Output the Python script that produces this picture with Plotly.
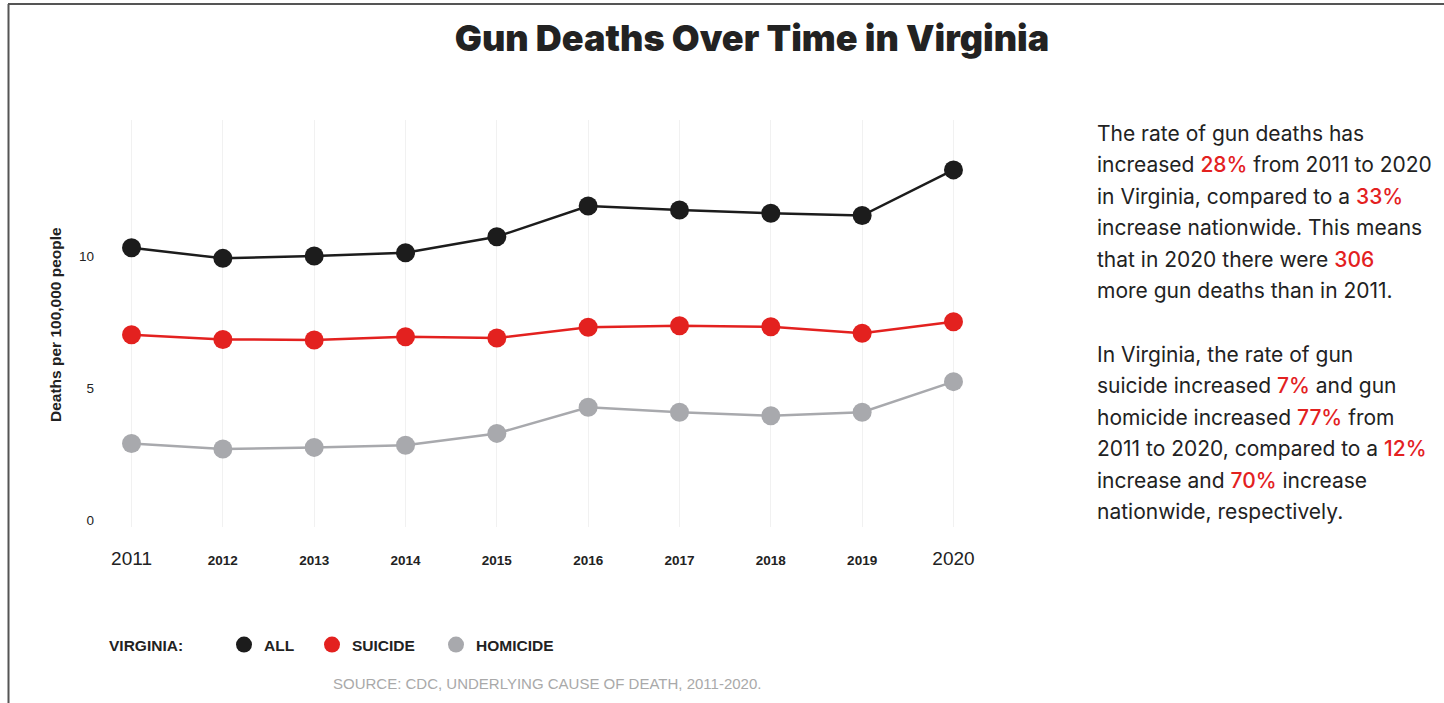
import plotly.graph_objects as go

years = [2011, 2012, 2013, 2014, 2015, 2016, 2017, 2018, 2019, 2020]
all_deaths = [10.31, 9.91, 10.0, 10.12, 10.73, 11.89, 11.74, 11.62, 11.53, 13.26]
suicide = [7.02, 6.84, 6.82, 6.94, 6.89, 7.30, 7.36, 7.32, 7.07, 7.51]
homicide = [2.90, 2.69, 2.75, 2.83, 3.28, 4.27, 4.08, 3.95, 4.08, 5.24]
x_tick_labels = ["<span style='font-size:19px;font-weight:normal'>2011</span>", "2012", "2013", "2014", "2015",
                 "2016", "2017", "2018", "2019", "<span style='font-size:19px;font-weight:normal'>2020</span>"]
y_ticks = [0, 5, 10]

series_names = ["ALL", "SUICIDE", "HOMICIDE"]
series_colors = ["#1c1c1c", "#e3211f", "#a8a9ad"]

W, H = 1444, 703
L, R, T, B = 95, 990, 120, 527


def px_x(p):
    return (p - L) / (R - L)


def px_y(p):
    return (B - p) / (B - T)


fig = go.Figure()
for name, vals, col in zip(series_names, [all_deaths, suicide, homicide], series_colors):
    fig.add_trace(go.Scatter(
        x=years, y=vals, mode="lines+markers", name=name, showlegend=False,
        line=dict(color=col, width=2.5),
        marker=dict(color=col, size=19),
        hoverinfo="x+y",
    ))

legend_ids = ["legend", "legend2", "legend3"]
legend_x = [224, 312, 436]
for name, col, lid in zip(series_names, series_colors, legend_ids):
    fig.add_trace(go.Scatter(
        x=[None], y=[None], mode="markers", name=name, legend=lid,
        marker=dict(color=col, size=19), showlegend=True,
    ))

legend_common = dict(
    orientation="h", yanchor="middle", xanchor="left",
    font=dict(family="Liberation Sans", size=15.5, color="#222222", weight="bold"),
    bgcolor="rgba(0,0,0,0)", borderwidth=0,
)
layout_legends = {}
for lid, lx in zip(legend_ids, legend_x):
    layout_legends[lid] = dict(legend_common, x=px_x(lx), y=px_y(645))

fig.update_layout(
    width=W, height=H,
    margin=dict(l=L, r=W - R, t=T, b=H - B),
    paper_bgcolor="white", plot_bgcolor="white",
    font=dict(family="Liberation Sans", color="#222222"),
    title=dict(
        text="Gun Deaths Over Time in Virginia",
        x=752 / W, xanchor="center", y=1 - 38 / H, yanchor="middle",
        font=dict(family="Inter", size=36, color="#222222", weight=900),
    ),
    xaxis=dict(
        range=[2010.6, 2020.4], tickmode="array", tickvals=years, ticktext=x_tick_labels,
        showgrid=True, gridcolor="#f1f1f1", gridwidth=1, zeroline=False, showline=False,
        ticks="", tickfont=dict(family="Liberation Sans", size=13.5, color="#222222", weight="bold"),
        ticklabelstandoff=23, fixedrange=True,
    ),
    yaxis=dict(
        range=[-0.265, 15.15], tickmode="array", tickvals=y_ticks,
        showgrid=False, zeroline=False, showline=False, ticks="",
        tickfont=dict(family="Liberation Sans", size=13.5, color="#222222"),
        fixedrange=True,
    ),
    showlegend=True,
    **layout_legends,
)

annotations = []
annotations.append(dict(
    text="Deaths per 100,000 people", textangle=-90, x=px_x(55), y=px_y(325),
    xref="paper", yref="paper", showarrow=False, xanchor="center", yanchor="middle",
    font=dict(family="Liberation Sans", size=15.5, color="#222222", weight="bold"),
))
annotations.append(dict(
    text="VIRGINIA:", x=px_x(107), y=px_y(645), xref="paper", yref="paper", showarrow=False,
    xanchor="left", yanchor="middle",
    font=dict(family="Liberation Sans", size=15.5, color="#222222", weight="bold"),
))
annotations.append(dict(
    text="SOURCE: CDC, UNDERLYING CAUSE OF DEATH, 2011-2020.", x=px_x(547), y=px_y(683),
    xref="paper", yref="paper", showarrow=False, xanchor="center", yanchor="middle",
    font=dict(family="Liberation Sans", size=15, color="#a9a9a9"),
))

RED = "#e3211f"


def hl(t):
    return f"<span style='color:{RED};font-weight:500'>{t}</span>"


para_lines = [
    "The rate of gun deaths has",
    f"increased {hl('28%')} from 2011 to 2020",
    f"in Virginia, compared to a {hl('33%')}",
    "increase nationwide. This means",
    f"that in 2020 there were {hl('306')}",
    "more gun deaths than in 2011.",
    "In Virginia, the rate of gun",
    f"suicide increased {hl('7%')} and gun",
    f"homicide increased {hl('77%')} from",
    f"2011 to 2020, compared to a {hl('12%')}",
    f"increase and {hl('70%')} increase",
    "nationwide, respectively.",
]
para_y = [133, 164.5, 196, 227.5, 259, 290.5, 354, 385.5, 417, 448.5, 480, 511.5]
for line, ly in zip(para_lines, para_y):
    annotations.append(dict(
        text=line, x=px_x(1095), y=px_y(ly), xref="paper", yref="paper", showarrow=False,
        xanchor="left", yanchor="middle",
        font=dict(family="Inter", size=21, color="#222222"),
    ))

fig.update_layout(annotations=annotations)

border = dict(color="#555555", width=2)
fig.add_shape(type="line", xref="paper", yref="paper", x0=px_x(8), x1=px_x(W), y0=px_y(4), y1=px_y(4), line=border)
fig.add_shape(type="line", xref="paper", yref="paper", x0=px_x(8.5), x1=px_x(8.5), y0=px_y(4), y1=px_y(H), line=border)

fig.write_html("out.html", config={"displayModeBar": False})
